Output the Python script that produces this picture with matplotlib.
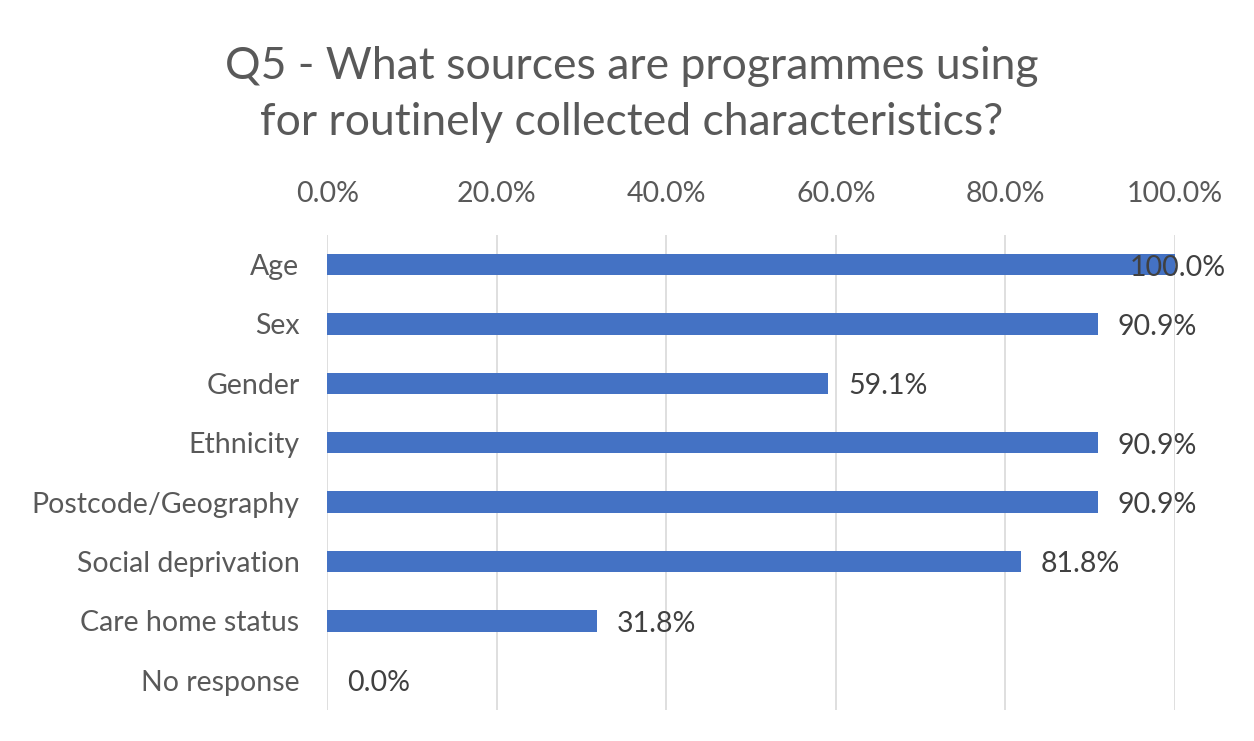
import matplotlib.pyplot as plt
from matplotlib.ticker import FuncFormatter

# Survey data (percent of programmes)
categories = ['Age', 'Sex', 'Gender', 'Ethnicity', 'Postcode/Geography',
              'Social deprivation', 'Care home status', 'No response']
values = [100.0, 90.9, 59.1, 90.9, 90.9, 81.8, 31.8, 0.0]
ticks = [0, 20, 40, 60, 80, 100]

plt.rcParams['font.family'] = ['Lato', 'DejaVu Sans']
grey = '#595959'

fig = plt.figure(figsize=(12.54, 7.41), dpi=100)
ax = fig.add_axes([0.261, 0.042, 0.676, 0.641])

y = range(len(categories))
ax.barh(y, values, height=0.36, color='#4472C4', zorder=3)

ax.set_xlim(0, 100)
ax.set_ylim(len(categories) - 0.5, -0.5)
ax.set_yticks(list(y))
ax.set_yticklabels(categories)
ax.set_xticks(ticks)
ax.xaxis.set_major_formatter(FuncFormatter(lambda v, p: f'{v:.1f}%'))
ax.xaxis.tick_top()
ax.tick_params(axis='both', length=0, labelsize=20.5, labelcolor=grey)
ax.tick_params(axis='x', pad=20)
ax.tick_params(axis='y', pad=20)

ax.grid(axis='x', color='#D9D9D9', linewidth=1.2, zorder=0)
for s in ax.spines.values():
    s.set_visible(False)

# Data labels (the 100% label sits over the bar end, as in the original)
for i, v in enumerate(values):
    off = -45 if v >= 100 else 20
    ax.annotate(f'{v:.1f}%', xy=(v, i), xytext=(off, -3),
                textcoords='offset pixels', ha='left', va='center',
                fontsize=20.5, color='#404040', zorder=4)

fig.text(0.504, 0.873, 'Q5 - What sources are programmes using\nfor routinely collected characteristics?',
         ha='center', va='center', fontsize=32, color=grey, linespacing=1.45)

fig.savefig('out.png', dpi=100)
